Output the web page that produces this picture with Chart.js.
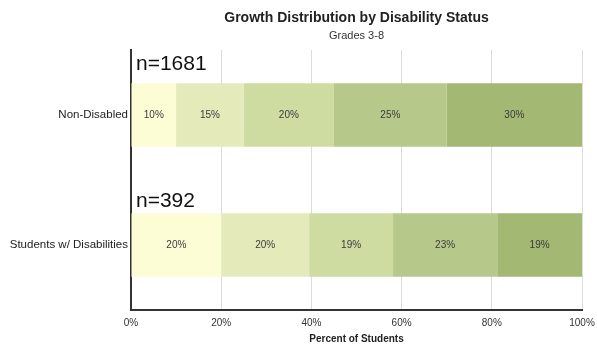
<!DOCTYPE html>
<html>
<head>
<meta charset="utf-8">
<script src="https://cdn.jsdelivr.net/npm/chart.js@4"></script>
<style>
  html, body { margin: 0; padding: 0; background: #fff; }
</style>
</head>
<body>
<canvas id="growthChart" width="597" height="347"></canvas>
<script>
const chartTitle = 'Growth Distribution by Disability Status';
const chartSubtitle = 'Grades 3-8';
const groups = ['Non-Disabled', 'Students w/ Disabilities'];
const groupCounts = ['n=1681', 'n=392'];
const bandNames = ['Band 1', 'Band 2', 'Band 3', 'Band 4', 'Band 5'];
const nonDisabled = [10, 15, 20, 25, 30];
const withDisabilities = [20, 19.5, 18.6, 23.1, 18.8];
const xTicks = [0, 20, 40, 60, 80, 100];
const bandColors = ['#fdfdd5', '#e5eaba', '#cfdca1', '#b7c98a', '#a2b873'];

const FONT = '"Liberation Sans", Arial, sans-serif';

// title centred over the plot area, segment values, group sizes
const annotate = {
  id: 'annotate',
  afterDatasetsDraw(chart) {
    const ctx = chart.ctx;
    const area = chart.chartArea;
    const mid = (area.left + area.right) / 2;
    ctx.save();
    ctx.textAlign = 'center';
    ctx.textBaseline = 'middle';
    ctx.fillStyle = '#222';
    ctx.font = 'bold 14px ' + FONT;
    ctx.fillText(chartTitle, mid, 18);
    ctx.fillStyle = '#333';
    ctx.font = '11px ' + FONT;
    ctx.fillText(chartSubtitle, mid, 36);

    ctx.font = '10px ' + FONT;
    ctx.fillStyle = '#3a3a3a';
    chart.data.datasets.forEach((ds, i) => {
      chart.getDatasetMeta(i).data.forEach((bar, j) => {
        const x = (bar.x + bar.base) / 2;
        ctx.fillText(Math.round(ds.data[j]) + '%', x, bar.y);
      });
    });

    ctx.font = '21px ' + FONT;
    ctx.fillStyle = '#111';
    ctx.textAlign = 'left';
    ctx.textBaseline = 'alphabetic';
    const lift = [13, 6];
    chart.getDatasetMeta(0).data.forEach((bar, j) => {
      const top = bar.y - bar.height / 2;
      ctx.fillText(groupCounts[j], area.left + 5, top - lift[j]);
    });
    ctx.restore();
  }
};

new Chart(document.getElementById('growthChart'), {
  type: 'bar',
  data: {
    labels: groups,
    datasets: bandNames.map((name, i) => ({
      label: name,
      data: [nonDisabled[i], withDisabilities[i]],
      backgroundColor: bandColors[i],
      borderWidth: 0,
      barPercentage: 0.49,
      categoryPercentage: 1
    }))
  },
  options: {
    indexAxis: 'y',
    responsive: false,
    animation: false,
    devicePixelRatio: 1,
    layout: { padding: { left: 2, right: 15, top: 50, bottom: 0 } },
    plugins: {
      legend: { display: false },
      tooltip: { enabled: false },
      title: { display: false }
    },
    scales: {
      x: {
        stacked: true,
        min: 0,
        max: 100,
        afterBuildTicks(axis) { axis.ticks = xTicks.map(v => ({ value: v })); },
        afterFit(axis) {
          axis.height = 37;
          axis.paddingLeft = 0;
          axis.paddingRight = 0;
        },
        ticks: {
          callback: v => v + '%',
          font: { family: FONT, size: 10 },
          color: '#333',
          padding: 7,
          maxRotation: 0
        },
        grid: { color: '#dcdcdc', drawTicks: false },
        border: { color: '#333', width: 2 },
        title: {
          display: true,
          text: 'Percent of Students',
          font: { family: FONT, size: 10, weight: 'bold' },
          color: '#222',
          padding: { top: 3, bottom: 2 }
        }
      },
      y: {
        stacked: true,
        afterFit(axis) { axis.width = 129; },
        ticks: {
          font: { family: FONT, size: 11.5 },
          color: '#222',
          padding: 3
        },
        grid: { display: false, drawTicks: false },
        border: { color: '#333', width: 2 }
      }
    }
  },
  plugins: [annotate]
});
</script>
</body>
</html>
